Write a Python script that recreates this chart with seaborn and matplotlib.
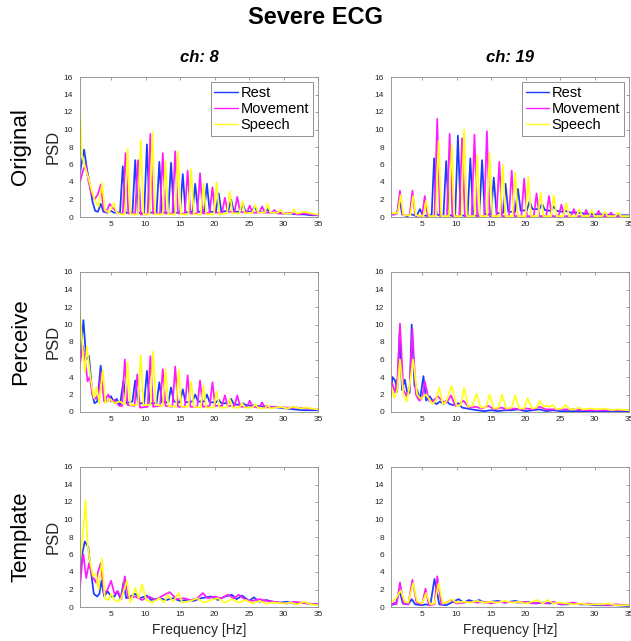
import numpy as np
import pandas as pd
import seaborn as sns
import matplotlib.pyplot as plt

# PSD traces, as (frequency [Hz], PSD) pairs
orig8_rest = [(0.5, 5.0), (0.8, 6.5), (1.1, 7.7), (1.5, 5.5), (1.9, 3.8), (2.3, 1.8), (2.7, 0.7), (3.1, 0.6),
              (3.5, 1.5), (3.9, 0.6), (4.5, 0.5), (5.0, 0.7), (5.4, 0.5), (5.9, 0.5), (6.3, 0.5), (6.7, 5.8),
              (7.1, 0.5), (8.1, 0.4), (8.5, 6.5), (8.9, 0.5), (9.8, 0.4), (10.2, 8.3), (10.6, 0.5), (11.6, 0.5),
              (12.0, 6.3), (12.4, 0.5), (13.3, 0.5), (13.7, 6.2), (14.1, 0.5), (15.0, 0.5), (15.4, 4.9),
              (15.8, 0.5), (16.8, 0.6), (17.2, 3.8), (17.6, 0.6), (18.5, 0.6), (18.9, 3.8), (19.3, 0.6),
              (20.2, 0.6), (20.6, 2.7), (21.0, 0.6), (22.0, 0.7), (22.4, 2.0), (22.8, 0.6), (23.7, 0.6),
              (24.1, 1.5), (24.5, 0.6), (25.4, 0.6), (25.8, 1.2), (26.2, 0.6), (27.2, 0.5), (27.6, 0.9),
              (28.0, 0.5), (29.0, 0.5), (29.3, 0.6), (29.7, 0.4), (31, 0.4), (32, 0.3), (33, 0.3), (34, 0.2),
              (35, 0.2)]
orig8_move = [(0.5, 4.0), (0.9, 5.2), (1.3, 6.0), (1.7, 4.2), (2.1, 2.8), (2.6, 2.0), (3.1, 2.6), (3.5, 3.7),
              (3.9, 1.0), (4.3, 0.5), (4.8, 1.5), (5.3, 1.0), (5.8, 0.6), (6.3, 0.4), (6.7, 0.4), (7.1, 7.3),
              (7.5, 0.4), (8.5, 0.4), (8.9, 6.5), (9.3, 0.3), (10.3, 0.3), (10.7, 9.5), (11.1, 0.4), (12.1, 0.4),
              (12.5, 7.3), (12.9, 0.4), (13.9, 0.4), (14.3, 7.5), (14.7, 0.4), (15.7, 0.4), (16.1, 5.3),
              (16.5, 0.4), (17.5, 0.4), (17.9, 5.0), (18.3, 0.4), (19.3, 0.5), (19.7, 3.4), (20.1, 0.5),
              (21.1, 0.5), (21.5, 2.2), (21.9, 0.6), (22.9, 0.6), (23.3, 2.3), (23.7, 0.6), (24.7, 0.5),
              (25.1, 1.3), (25.5, 0.5), (26.5, 0.5), (26.9, 1.2), (27.3, 0.5), (28.3, 0.5), (28.7, 0.8),
              (29.1, 0.4), (30, 0.4), (31, 0.5), (32, 0.3), (33, 0.4), (34, 0.3), (35, 0.2)]
orig8_speech = [(0.5, 12.0), (0.8, 7.0), (1.2, 5.8), (1.7, 4.5), (2.2, 3.0), (2.7, 1.8), (3.2, 1.2), (3.7, 3.9),
                (4.1, 0.8), (4.7, 0.5), (5.4, 1.6), (5.8, 0.5), (6.5, 0.3), (7.0, 0.3), (7.4, 7.8), (7.8, 0.3),
                (8.9, 0.3), (9.3, 8.8), (9.7, 0.3), (10.6, 0.3), (11.0, 9.7), (11.4, 0.3), (12.5, 0.3),
                (12.9, 6.4), (13.3, 0.3), (14.3, 0.3), (14.7, 7.5), (15.1, 0.3), (16.2, 0.3), (16.6, 5.5),
                (17.0, 0.3), (18.0, 0.3), (18.4, 3.8), (18.8, 0.3), (19.9, 0.3), (20.3, 4.0), (20.7, 0.3),
                (21.8, 0.4), (22.2, 2.9), (22.6, 0.4), (23.6, 0.4), (24.0, 1.8), (24.4, 0.4), (25.5, 0.5),
                (25.9, 1.4), (26.3, 0.5), (27.3, 0.5), (27.7, 1.5), (28.1, 0.5), (29.2, 0.5), (29.6, 0.8),
                (30.0, 0.4), (31.1, 0.4), (31.5, 0.9), (31.9, 0.4), (33, 0.6), (34, 0.4), (35, 0.3)]

orig19_rest = [(0.5, 0.3), (1.0, 0.3), (1.4, 0.5), (1.75, 2.2), (2.1, 0.3), (2.8, 0.1), (3.5, 0.3), (4.2, 0.1),
               (4.7, 0.9), (5.1, 0.2), (6.0, 0.1), (6.4, 0.3), (6.75, 6.7), (7.1, 0.3), (8.1, 0.1), (8.5, 6.4),
               (8.9, 0.2), (9.8, 0.1), (10.2, 9.3), (10.6, 0.2), (11.6, 0.1), (12.0, 6.7), (12.4, 0.2),
               (13.3, 0.1), (13.7, 6.5), (14.1, 0.3), (15.0, 0.3), (15.4, 4.5), (15.8, 0.4), (16.8, 0.5),
               (17.1, 3.8), (17.5, 0.6), (18.5, 0.6), (18.9, 3.2), (19.3, 0.7), (20.2, 0.8), (20.6, 1.8),
               (21.0, 0.9), (22.0, 0.9), (22.4, 1.5), (22.8, 0.8), (23.7, 0.7), (24.1, 1.2), (24.5, 0.7),
               (25.4, 0.6), (25.8, 0.7), (26.5, 0.5), (27.5, 0.5), (28.5, 0.4), (30, 0.3), (31.5, 0.3),
               (33, 0.2), (35, 0.2)]
orig19_move = [(0.5, 0.3), (1.0, 0.3), (1.4, 0.4), (1.8, 3.0), (2.2, 0.2), (3.2, 0.2), (3.6, 3.0), (4.0, 0.2),
               (5.0, 0.1), (5.4, 2.4), (5.8, 0.1), (6.8, 0.1), (7.2, 11.2), (7.6, 0.1), (8.6, 0.1), (9.0, 9.5),
               (9.4, 0.1), (10.4, 0.1), (10.8, 9.0), (11.2, 0.1), (12.2, 0.1), (12.6, 9.4), (13.0, 0.1),
               (14.0, 0.1), (14.4, 9.8), (14.8, 0.1), (15.8, 0.1), (16.2, 6.3), (16.6, 0.1), (17.6, 0.1),
               (18.0, 5.3), (18.4, 0.1), (19.4, 0.1), (19.8, 4.4), (20.2, 0.1), (21.2, 0.1), (21.6, 2.7),
               (22.0, 0.1), (23.0, 0.1), (23.4, 2.4), (23.8, 0.1), (24.8, 0.1), (25.2, 1.4), (25.6, 0.1),
               (26.6, 0.1), (27.0, 0.9), (27.4, 0.1), (28.4, 0.1), (28.8, 0.8), (29.2, 0.1), (30.2, 0.1),
               (30.6, 0.7), (31.0, 0.1), (32.0, 0.1), (32.4, 0.5), (32.8, 0.1), (35, 0.1)]
orig19_speech = [(0.5, 0.5), (1.0, 0.4), (1.5, 0.5), (1.9, 2.5), (2.3, 0.2), (3.3, 0.2), (3.7, 2.4), (4.1, 0.2),
                 (5.2, 0.1), (5.6, 1.9), (6.0, 0.1), (7.0, 0.1), (7.4, 8.7), (7.8, 0.1), (8.9, 0.1), (9.3, 8.2),
                 (9.7, 0.1), (10.7, 0.1), (11.1, 10.0), (11.5, 0.1), (12.6, 0.1), (13.0, 7.1), (13.4, 0.1),
                 (14.4, 0.1), (14.8, 7.3), (15.2, 0.1), (16.3, 0.1), (16.7, 6.0), (17.1, 0.1), (18.1, 0.1),
                 (18.5, 5.1), (18.9, 0.1), (20.0, 0.1), (20.4, 4.6), (20.8, 0.1), (21.8, 0.1), (22.2, 2.8),
                 (22.6, 0.1), (23.7, 0.1), (24.1, 2.5), (24.5, 0.1), (25.5, 0.1), (25.9, 1.6), (26.3, 0.1),
                 (27.4, 0.1), (27.8, 0.9), (28.2, 0.1), (29.2, 0.1), (29.6, 0.8), (30.0, 0.1), (31.1, 0.1),
                 (31.5, 0.6), (31.9, 0.1), (33.0, 0.1), (33.4, 0.5), (33.8, 0.1), (35, 0.1)]

perc8_rest = [(0.5, 6.0), (1.0, 10.5), (1.4, 6.0), (1.8, 6.4), (2.3, 2.0), (2.6, 1.0), (3.0, 1.2), (3.5, 5.3),
              (4.0, 1.5), (4.5, 1.2), (5.0, 1.8), (5.5, 1.0), (5.8, 1.5), (6.3, 0.8), (6.8, 3.6), (7.2, 1.0),
              (8.1, 1.2), (8.5, 3.6), (8.9, 1.0), (9.8, 1.0), (10.2, 4.7), (10.6, 1.0), (11.6, 1.0), (12.0, 3.4),
              (12.4, 1.1), (13.3, 1.1), (13.7, 2.8), (14.1, 1.2), (15.0, 1.1), (15.4, 2.6), (15.8, 1.1),
              (16.8, 1.2), (17.2, 2.0), (17.6, 1.2), (18.5, 1.2), (18.9, 2.0), (19.3, 1.1), (20.2, 1.1),
              (20.6, 1.4), (21.0, 1.0), (22.0, 1.0), (22.4, 1.5), (22.8, 0.9), (23.7, 0.8), (24.1, 1.0),
              (24.5, 0.8), (25.4, 0.7), (25.8, 0.8), (26.2, 0.7), (27.2, 0.6), (27.6, 0.7), (28.0, 0.6),
              (29.3, 0.5), (30.5, 0.4), (31.5, 0.3), (33, 0.2), (35, 0.2)]
perc8_move = [(0.5, 5.5), (0.9, 7.6), (1.3, 5.5), (1.6, 3.5), (1.9, 4.0), (2.3, 2.0), (2.8, 1.5), (3.2, 2.2),
              (3.6, 4.5), (4.0, 1.2), (4.6, 2.0), (5.0, 1.2), (5.5, 1.4), (6.2, 0.7), (6.6, 0.7), (7.0, 6.0),
              (7.4, 0.8), (8.4, 0.7), (8.8, 4.3), (9.2, 0.5), (10.3, 0.6), (10.7, 6.4), (11.1, 0.6), (12.1, 0.7),
              (12.5, 4.9), (12.9, 0.7), (13.9, 0.6), (14.3, 5.2), (14.7, 0.6), (15.7, 0.6), (16.1, 4.2),
              (16.5, 0.6), (17.5, 0.6), (17.9, 3.6), (18.3, 0.6), (19.3, 0.7), (19.7, 3.4), (20.1, 0.7),
              (21.1, 0.7), (21.5, 1.9), (21.9, 0.7), (22.9, 0.7), (23.3, 1.9), (23.7, 0.6), (24.7, 0.6),
              (25.1, 1.3), (25.5, 0.6), (26.5, 0.5), (26.9, 1.1), (27.3, 0.5), (28.7, 0.6), (30.5, 0.5),
              (32, 0.5), (33.5, 0.4), (35, 0.3)]
perc8_speech = [(0.5, 11.5), (0.9, 7.0), (1.2, 4.6), (1.5, 7.5), (2.0, 4.0), (2.5, 1.6), (2.9, 2.8), (3.3, 1.0),
                (3.8, 4.8), (4.2, 1.0), (4.8, 1.5), (5.5, 1.0), (6.2, 1.2), (7.0, 0.9), (7.4, 5.7), (7.8, 0.8),
                (8.9, 0.8), (9.3, 6.5), (9.7, 0.8), (10.7, 0.8), (11.1, 6.9), (11.5, 0.8), (12.5, 0.7),
                (12.9, 4.9), (13.3, 0.7), (14.4, 0.6), (14.8, 4.8), (15.2, 0.6), (16.2, 0.6), (16.6, 3.5),
                (17.0, 0.6), (18.0, 0.5), (18.4, 3.0), (18.8, 0.5), (19.9, 0.5), (20.3, 2.4), (20.7, 0.5),
                (21.8, 0.5), (22.2, 1.5), (22.6, 0.5), (23.6, 0.5), (24.0, 1.0), (24.4, 0.5), (25.5, 0.5),
                (25.9, 0.9), (26.3, 0.5), (27.3, 0.4), (27.7, 0.8), (28.1, 0.4), (29.6, 0.6), (30.5, 0.4),
                (31.5, 0.6), (32.5, 0.4), (33.3, 0.5), (34, 0.4), (35, 0.3)]

perc19_rest = [(0.5, 1.8), (0.7, 4.0), (1.1, 3.6), (1.4, 2.3), (1.75, 9.0), (2.1, 2.5), (2.5, 3.7), (2.9, 2.0),
               (3.2, 2.2), (3.5, 10.0), (3.9, 3.0), (4.3, 2.5), (4.7, 1.4), (5.2, 4.1), (5.6, 1.3), (6.1, 1.8),
               (6.6, 1.2), (7.1, 0.9), (7.6, 1.2), (8.1, 0.9), (8.5, 1.3), (9.0, 0.9), (9.5, 0.8), (10.3, 1.0),
               (10.8, 0.5), (11.5, 0.4), (12.2, 0.3), (13, 0.2), (14, 0.1), (15, 0.2), (16, 0.1), (17, 0.2),
               (18, 0.2), (18.9, 0.3), (20, 0.1), (21, 0.2), (22, 0.3), (23, 0.1), (24, 0.2), (25, 0.1),
               (27, 0.1), (29, 0.1), (31, 0.1), (33, 0.1), (35, 0.1)]
perc19_move = [(0.5, 3.5), (0.8, 3.0), (1.1, 2.2), (1.45, 4.0), (1.8, 10.1), (2.3, 2.5), (2.8, 1.8), (3.2, 2.8),
               (3.6, 9.5), (4.1, 2.0), (4.6, 1.3), (5.0, 1.6), (5.4, 3.5), (6.0, 1.3), (6.5, 1.2), (7.3, 1.8),
               (8.0, 1.2), (8.6, 1.1), (9.2, 1.9), (9.8, 0.7), (10.4, 0.8), (11.0, 1.3), (11.8, 0.5), (12.8, 0.6),
               (13.6, 0.4), (14.6, 0.7), (15.5, 0.3), (16.5, 0.5), (17.4, 0.3), (18.3, 0.4), (19.3, 0.3),
               (20.2, 0.4), (21.1, 0.3), (22.0, 0.6), (23.0, 0.3), (24, 0.3), (25.5, 0.3), (27, 0.3), (29, 0.2),
               (31, 0.2), (33, 0.2), (35, 0.2)]
perc19_speech = [(0.5, 3.0), (1.0, 1.6), (1.4, 2.5), (1.8, 6.0), (2.3, 2.0), (2.8, 1.2), (3.2, 3.0), (3.7, 6.0),
                 (4.3, 2.0), (4.8, 1.5), (5.6, 2.0), (6.5, 0.9), (7.0, 1.3), (7.5, 2.8), (8.0, 0.9), (8.5, 1.2),
                 (9.3, 3.0), (10.0, 0.7), (10.6, 0.8), (11.1, 2.8), (11.7, 0.6), (12.3, 0.7), (12.9, 2.1),
                 (13.5, 0.5), (14.3, 0.6), (14.8, 2.0), (15.4, 0.4), (16.1, 0.5), (16.6, 2.0), (17.2, 0.4),
                 (18.0, 0.5), (18.5, 1.9), (19.1, 0.4), (19.8, 0.4), (20.3, 1.6), (20.9, 0.4), (21.6, 0.5),
                 (22.1, 1.3), (22.6, 0.6), (23.0, 0.7), (23.5, 0.6), (24.0, 0.8), (24.5, 0.3), (25.3, 0.4),
                 (25.8, 0.8), (26.4, 0.3), (27.2, 0.3), (27.7, 0.5), (28.3, 0.3), (29.5, 0.4), (30.3, 0.3),
                 (31.5, 0.4), (32.5, 0.2), (33.3, 0.3), (35, 0.2)]

tmpl8_rest = [(0.5, 3.5), (0.8, 6.0), (1.2, 7.5), (1.7, 6.8), (2.1, 4.0), (2.5, 1.5), (3.0, 1.2), (3.3, 1.5),
              (3.6, 3.0), (4.0, 1.2), (4.5, 1.8), (5.0, 1.2), (5.5, 1.2), (5.9, 1.8), (6.4, 0.9), (6.8, 2.8),
              (7.2, 1.0), (8.0, 1.3), (8.5, 1.5), (9.2, 1.0), (10.2, 1.3), (10.8, 0.8), (12.0, 1.0), (13.0, 0.8),
              (14.0, 1.0), (15.0, 0.7), (16.0, 0.8), (17.0, 0.7), (18.0, 1.0), (19.5, 1.2), (20.5, 0.8),
              (21.5, 1.2), (22.5, 1.4), (23.2, 0.9), (24.0, 1.3), (25.0, 0.7), (25.7, 1.1), (26.5, 0.6),
              (27.5, 0.8), (28.5, 0.6), (29.5, 0.5), (30.5, 0.6), (31.5, 0.4), (32.5, 0.5), (33.5, 0.4),
              (35, 0.3)]
tmpl8_move = [(0.5, 2.3), (0.8, 5.0), (1.0, 6.0), (1.4, 3.3), (1.8, 5.0), (2.3, 3.5), (2.8, 2.8), (3.1, 4.0),
              (3.5, 5.0), (4.0, 1.5), (4.5, 2.0), (5.0, 3.0), (5.5, 1.5), (6.0, 1.8), (6.5, 0.9), (7.0, 3.5),
              (7.5, 1.0), (8.5, 1.2), (9.5, 0.8), (10.5, 1.2), (11.5, 0.8), (12.5, 1.3), (13.5, 1.7), (14.5, 0.9),
              (15.5, 1.0), (16.5, 0.8), (17.5, 1.0), (18.3, 1.6), (19.0, 1.0), (20.0, 1.2), (21.0, 1.0),
              (21.9, 1.4), (22.8, 1.0), (23.5, 1.4), (24.5, 0.8), (25.5, 0.7), (26.5, 0.9), (27.5, 0.7),
              (28.5, 0.6), (29.5, 0.5), (30.5, 0.4), (31.5, 0.6), (32.5, 0.5), (33.5, 0.4), (35, 0.3)]
tmpl8_speech = [(0.5, 5.0), (1.0, 9.0), (1.3, 12.2), (1.6, 7.0), (2.0, 5.0), (2.4, 3.5), (2.8, 3.8), (3.2, 2.0),
                (3.7, 5.5), (4.1, 1.0), (4.6, 0.8), (5.0, 1.5), (5.5, 0.8), (6.0, 0.6), (6.5, 1.0), (7.3, 3.0),
                (7.8, 0.5), (8.5, 2.2), (9.0, 1.0), (9.5, 2.6), (10.1, 0.8), (11.0, 0.5), (12.0, 1.0), (12.7, 0.5),
                (13.2, 1.4), (14.0, 0.6), (14.8, 1.6), (15.3, 0.5), (16.5, 0.7), (17.5, 1.0), (18.5, 0.5),
                (19.5, 0.8), (20.5, 1.0), (21.5, 0.5), (22.5, 0.9), (23.5, 0.5), (24.5, 0.8), (25.5, 0.4),
                (26.5, 0.7), (27.5, 0.4), (28.5, 0.5), (30, 0.4), (31, 0.5), (32, 0.3), (33, 0.6), (34, 0.3),
                (35, 0.2)]

tmpl19_rest = [(0.5, 0.2), (1.2, 0.4), (1.75, 1.9), (2.2, 0.4), (3.0, 0.3), (3.5, 0.9), (4.0, 0.3), (5.0, 0.2),
               (5.5, 0.3), (6.2, 0.2), (6.8, 3.2), (7.5, 0.3), (8.5, 0.2), (9.5, 0.6), (10.3, 0.9), (11.0, 0.5),
               (11.8, 0.8), (12.5, 0.6), (13.3, 0.8), (14.0, 0.5), (15.0, 0.6), (16.0, 0.7), (17.0, 0.5),
               (18.5, 0.7), (19.5, 0.5), (20.5, 0.6), (21.5, 0.4), (22.5, 0.5), (23.5, 0.4), (24.3, 0.5),
               (25.0, 0.3), (26.0, 0.3), (27.0, 0.4), (28.0, 0.3), (29.0, 0.3), (30.0, 0.2), (31.0, 0.2),
               (32.0, 0.2), (33.0, 0.2), (35, 0.1)]
tmpl19_move = [(0.5, 0.2), (1.0, 0.5), (1.3, 0.3), (1.8, 2.8), (2.3, 0.4), (3.0, 0.3), (3.6, 3.1), (4.2, 0.5),
               (5.0, 0.3), (5.5, 2.1), (6.0, 0.2), (6.8, 0.3), (7.2, 3.5), (7.8, 0.3), (8.5, 0.5), (9.2, 0.8),
               (10.0, 0.4), (11.0, 0.5), (12.0, 0.6), (13.0, 0.5), (14.0, 0.6), (15.0, 0.4), (16.0, 0.6),
               (17.0, 0.5), (18.0, 0.6), (19.0, 0.5), (20.0, 0.6), (21.0, 0.4), (22.0, 0.5), (23.0, 0.4),
               (24.0, 0.6), (25.0, 0.3), (26.0, 0.4), (27.0, 0.5), (28.0, 0.3), (29.0, 0.4), (30.0, 0.3),
               (31.0, 0.3), (32.0, 0.2), (33.0, 0.3), (35, 0.2)]
tmpl19_speech = [(0.5, 0.5), (1.2, 1.0), (1.9, 1.9), (2.5, 0.6), (3.0, 0.5), (3.7, 2.7), (4.3, 0.6), (5.0, 0.4),
                 (5.6, 1.6), (6.2, 0.3), (6.8, 0.4), (7.4, 2.7), (8.0, 0.4), (8.8, 0.6), (9.3, 0.9), (10.0, 0.5),
                 (11.0, 0.6), (12.0, 0.5), (13.0, 0.7), (14.0, 0.5), (15.0, 0.6), (16.0, 0.5), (17.0, 0.7),
                 (18.0, 0.5), (19.0, 0.6), (20.0, 0.4), (21.8, 0.8), (22.5, 0.4), (23.2, 0.8), (24.0, 0.4),
                 (25.0, 0.5), (26.0, 0.4), (27.0, 0.3), (28.0, 0.4), (29.0, 0.3), (30.0, 0.3), (31.0, 0.3),
                 (32.0, 0.4), (33.0, 0.2), (35, 0.2)]

conditions = ['Rest', 'Movement', 'Speech']
colors = {'Rest': '#1a3cff', 'Movement': '#ff1aff', 'Speech': '#ffff1a'}
row_names = ['Original', 'Perceive', 'Template']
col_names = ['ch: 8', 'ch: 19']
panels = [
    [[orig8_rest, orig8_move, orig8_speech], [orig19_rest, orig19_move, orig19_speech]],
    [[perc8_rest, perc8_move, perc8_speech], [perc19_rest, perc19_move, perc19_speech]],
    [[tmpl8_rest, tmpl8_move, tmpl8_speech], [tmpl19_rest, tmpl19_move, tmpl19_speech]],
]


def to_frame(traces):
    parts = []
    for cond, trace in zip(conditions, traces):
        f, p = zip(*trace)
        parts.append(pd.DataFrame({'freq': f, 'psd': p, 'cond': cond}))
    return pd.concat(parts, ignore_index=True)


sns.set_theme(style='white')
plt.rcParams['font.family'] = ['Liberation Sans', 'DejaVu Sans']
plt.rcParams['text.color'] = 'black'

W, H = 631, 641
fig = plt.figure(figsize=(W / 100, H / 100), dpi=100)

# axes boxes in pixels: (left, top) of each panel, all the same size
col_left = [80, 391]
row_top = [77, 272, 467]
ax_w, ax_h = 238, 140

for r in range(3):
    for c in range(2):
        x0, y0 = col_left[c], row_top[r]
        ax = fig.add_axes([x0 / W, 1 - (y0 + ax_h) / H, ax_w / W, ax_h / H])
        df = to_frame(panels[r][c])
        sns.lineplot(data=df, x='freq', y='psd', hue='cond', hue_order=conditions,
                     palette=colors, estimator=None, sort=False, linewidth=1.25,
                     ax=ax, legend=(r == 0))
        ax.set_xlim(0.5, 35)
        ax.set_ylim(0, 16)
        ax.set_xticks(np.arange(5, 36, 5))
        ax.set_yticks(np.arange(0, 17, 2))
        ax.set_xlabel('')
        ax.set_ylabel('')
        ax.tick_params(direction='in', length=2.5, width=0.5, color='#7a7a7a',
                       labelcolor='#262626', labelsize=6, top=True, right=True, pad=3)
        ax.tick_params(axis='y', pad=5)
        for sp in ax.spines.values():
            sp.set_color('#8a8a8a')
            sp.set_linewidth(0.6)

        if r == 0:
            handles, labels = ax.get_legend_handles_labels()
            leg = ax.legend(handles, labels, loc='upper right', fontsize=10.5,
                            handlelength=1.6, handletextpad=0.2, labelspacing=0.15,
                            borderpad=0.25, borderaxespad=0.35, fancybox=False,
                            framealpha=1, edgecolor='#808080')
            leg.get_frame().set_linewidth(0.6)
            for line in leg.get_lines():
                line.set_linewidth(1.0)
            fig.text((x0 + ax_w / 2) / W, 1 - 57 / H, col_names[c], ha='center', va='center',
                     fontsize=12, fontweight='bold', fontstyle='italic')
        if r == 2:
            fig.text((x0 + ax_w / 2) / W, 1 - 630 / H, 'Frequency [Hz]', ha='center',
                     va='center', fontsize=10, color='#262626')
        if c == 0:
            yc = 1 - (y0 + ax_h / 2) / H
            fig.text(21 / W, yc, row_names[r], rotation=90, ha='center', va='center', fontsize=16)
            fig.text(53 / W, yc, 'PSD', rotation=90, ha='center', va='center', fontsize=12,
                     color='#262626')

fig.text(0.5, 1 - 18 / H, 'Severe ECG', ha='center', va='center', fontsize=17, fontweight='bold')

fig.savefig('out.png', dpi=100)
